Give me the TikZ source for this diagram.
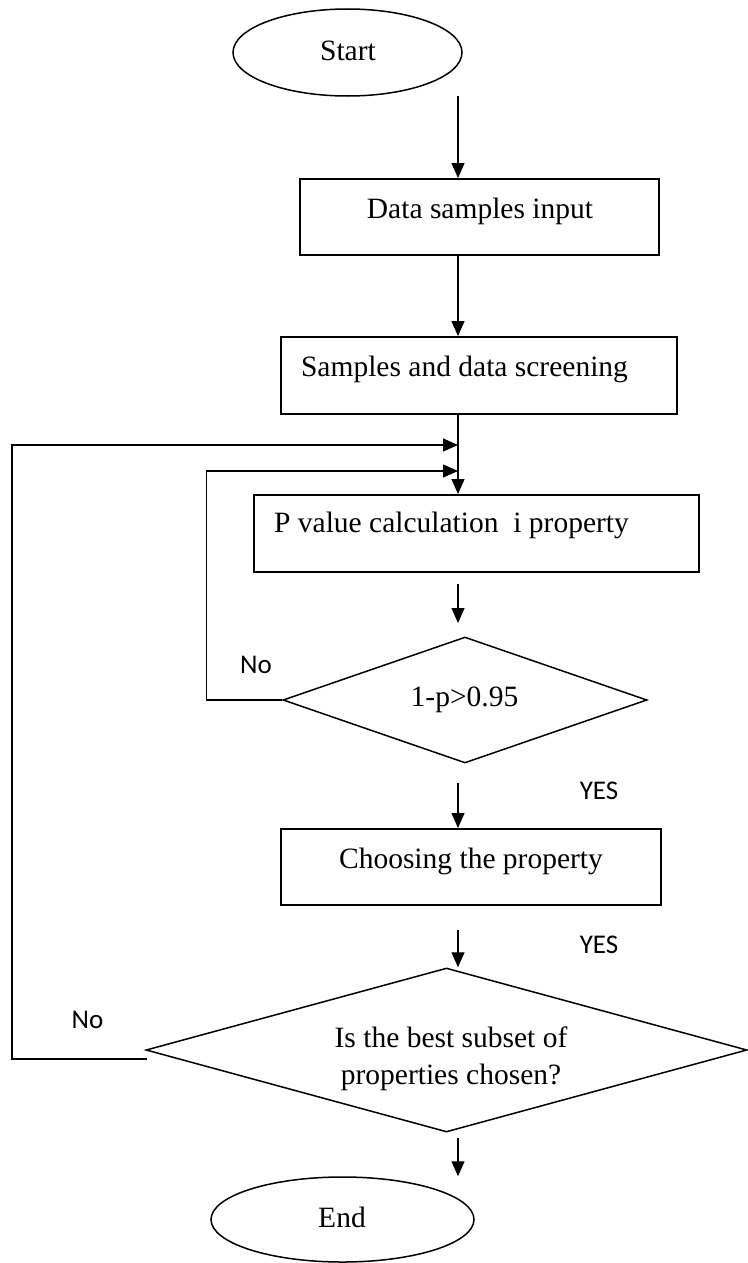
\documentclass[tikz,border=0pt]{standalone}
\usepackage{fontspec}
\setmainfont{Liberation Serif}
\newfontfamily\lblfont{Carlito}
\usetikzlibrary{shapes.geometric,arrows.meta}

\tikzset{
  flowline/.style={line width=1.3pt},
  flowarrow/.style={line width=1.3pt,-{Triangle[length=15pt,width=13pt]}},
  termbox/.style={draw,ellipse,line width=1.5pt,inner sep=0pt},
  procbox/.style={draw,rectangle,line width=2pt,inner sep=0pt},
  testbox/.style={draw,diamond,line width=1.5pt,inner sep=0pt},
  boxtext/.style={font=\fontsize{29.5}{37}\selectfont,inner sep=0pt,anchor=base},
  yesno/.style={font=\lblfont\fontsize{27}{32}\selectfont,inner sep=0pt,anchor=base},
}

\begin{document}
\begin{tikzpicture}[x=1pt,y=-1pt]
\useasboundingbox (0,0) rectangle (747,1263);

% shapes
\node[termbox, minimum width=229pt, minimum height=87pt] (start) at (347.5,52.5) {};
\node[procbox, minimum width=359pt, minimum height=76pt] (input) at (479.5,217) {};
\node[procbox, minimum width=396pt, minimum height=77pt] (screen) at (479,375.5) {};
\node[procbox, minimum width=445pt, minimum height=77pt] (pcalc) at (476.5,533.5) {};
\node[testbox, minimum width=364pt, minimum height=126pt] (ptest) at (465,700) {};
\node[procbox, minimum width=380pt, minimum height=76pt] (choose) at (471,867) {};
\node[testbox, minimum width=601pt, minimum height=164pt] (subset) at (446.5,1050) {};
\node[termbox, minimum width=263pt, minimum height=85pt] (end) at (342.5,1219.5) {};

% texts
\node[boxtext] (starttxt) at (348,61) {Start};
\node[boxtext] (inputtxt) at (480,218) {Data samples input};
\node[boxtext] (screentxt) at (464.5,376) {Samples and data screening};
\node[boxtext] (pcalctxt) at (451.5,532) {P value calculation\ \ i property};
\node[boxtext] (ptesttxt) at (464.5,706) {1-p>0.95};
\node[boxtext] (choosetxt) at (471,868) {Choosing the property};
\node[boxtext] (subsettxta) at (451,1047) {Is the best subset of};
\node[boxtext] (subsettxtb) at (451,1084) {properties chosen?};
\node[boxtext] (endtxt) at (342,1227) {End};

\node[yesno] (no1) at (256,673) {No};
\node[yesno] (yes1) at (599,799) {YES};
\node[yesno] (yes2) at (599,953) {YES};
\node[yesno] (no2) at (87.5,1028) {No};

% connectors
\coordinate (a1) at (458,96);
\coordinate (a2) at (458,584);
\coordinate (a2e) at (458,623);
\coordinate (a3) at (458,783);
\coordinate (a4) at (458,930);
\coordinate (a5) at (458,1138);
\coordinate (j1) at (458,471);
\coordinate (j2) at (458,445);
\coordinate (n2) at (147,1059);

\draw[flowarrow] (a1) -- (a1 |- input.north);
\draw[flowarrow] (input.south -| a1) -- (screen.north -| a1);
\draw[flowarrow] (screen.south -| a1) -- (pcalc.north -| a1);
\draw[flowarrow] (a2) -- (a2e);
\draw[flowarrow] (a3) -- (a3 |- choose.north);
\draw[flowarrow] (a4) -- (a4 |- subset.north);
\draw[flowarrow] (a5) -- (a5 |- end.north);

% loops back
\draw[flowarrow] (ptest.west) -- ++(-76,0) |- (j1);
\draw[flowarrow] (n2) -- (12,1059) |- (j2);
\end{tikzpicture}
\end{document}
